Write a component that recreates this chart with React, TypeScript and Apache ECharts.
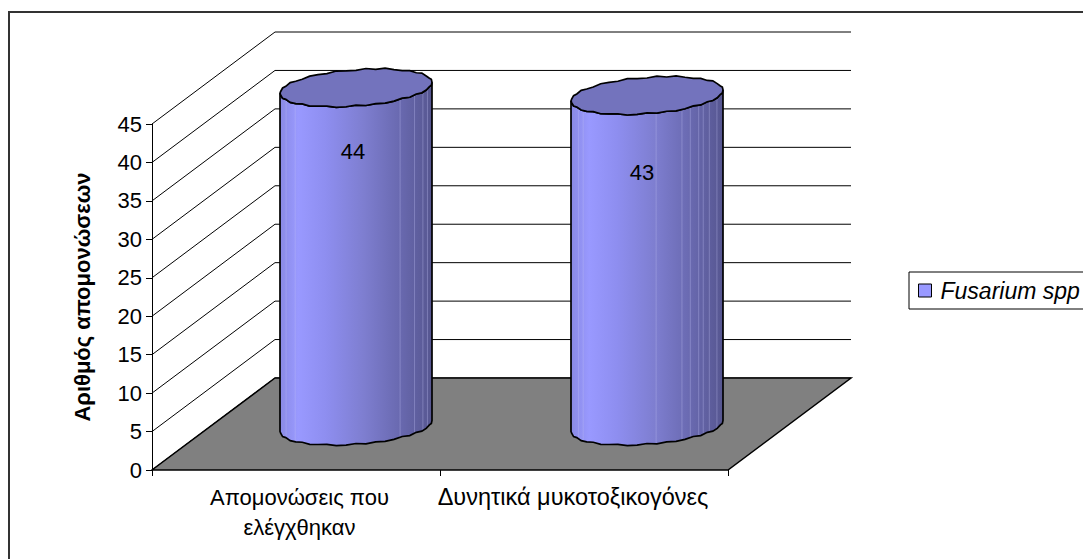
import React, { useEffect, useRef } from "react";
import * as echarts from "echarts";

const categories = ["Απομονώσεις που\nελέγχθηκαν", "Δυνητικά μυκοτοξικογόνες"];
const isolates = [44, 43];
const axisTicks = [0, 5, 10, 15, 20, 25, 30, 35, 40, 45];
const seriesName = "Fusarium spp";
const yAxisTitle = "Αριθμός απομονώσεων";

// Oblique projection of the chart's depth
const DEPTH_X = 123;
const DEPTH_Y = 92;
const FONT = '"Liberation Sans", Arial, sans-serif';
const TEXT_SIZE = 22;

// Cylinder shape, in pixels, relative to the front plane of the plot
const cylShiftX = [60, 63];
const CYL_SHIFT_Y = 44;
const CYL_RX = 76;
const CYL_RY = 18.2;
const CYL_TILT = 5.5;
const labelDrop = [20, 33];
const labelShift = [-3, -5];

// Small outline wobble that gives the ellipses their faceted edge
const wobble = [0, 0.6, -0.5, 0.5, 0.8, -0.4, 0.6, -0.6, 0.4, 0.7, -0.3, 0.5, -0.7, 0.3, 0.6, -0.5];

function ellipsePoint(cx: number, cy: number, t: number, i: number) {
  const w = i % 24 === 0 ? 0 : wobble[i % wobble.length];
  return [
    cx + CYL_RX * Math.cos(t),
    cy + CYL_RY * Math.sin(t) - CYL_TILT * Math.cos(t) + w,
  ];
}

function ellipseRing(cx: number, cy: number) {
  const pts: number[][] = [];
  const n = 48;
  for (let i = 0; i < n; i++) pts.push(ellipsePoint(cx, cy, (i / n) * Math.PI * 2, i));
  return pts;
}

function lowerArc(cx: number, cy: number) {
  const pts: number[][] = [];
  const n = 24;
  for (let i = 0; i <= n; i++) pts.push(ellipsePoint(cx, cy, (i / n) * Math.PI, i));
  return pts;
}

const bodyGradient = new echarts.graphic.LinearGradient(0, 0, 1, 0, [
  { offset: 0, color: "#8a8ae4" },
  { offset: 0.12, color: "#9999ff" },
  { offset: 0.3, color: "#8e8ef0" },
  { offset: 0.55, color: "#7e7ed0" },
  { offset: 0.8, color: "#6868ae" },
  { offset: 1, color: "#565690" },
]);

// Thin pale streaks down each body, as fractions of its width
const streaks = [
  [0.04, 0.1, 0.79, 0.885, 0.94, 0.97],
  [0.05, 0.08, 0.56, 0.73, 0.785, 0.84, 0.87, 0.91, 0.96],
];

function renderFloor(params: any, api: any) {
  const cs = params.coordSys;
  const y0 = api.coord([0, 0])[1];
  const x0 = cs.x;
  const x1 = cs.x + cs.width;
  return {
    type: "polygon",
    shape: {
      points: [
        [x0, y0],
        [x1, y0],
        [x1 + DEPTH_X, y0 - DEPTH_Y],
        [x0 + DEPTH_X, y0 - DEPTH_Y],
      ],
    },
    style: { fill: "#808080", stroke: "#000", lineWidth: 1.5 },
  };
}

function renderWallLine(params: any, api: any) {
  const cs = params.coordSys;
  const y = api.coord([0, api.value(1)])[1];
  return {
    type: "polyline",
    shape: {
      points: [
        [cs.x, y],
        [cs.x + DEPTH_X, y - DEPTH_Y],
        [cs.x + cs.width + DEPTH_X, y - DEPTH_Y],
      ],
    },
    style: { fill: "none", stroke: "#000", lineWidth: 1 },
  };
}

function renderCylinder(params: any, api: any) {
  const idx = params.dataIndex;
  const value = api.value(1);
  const cx = api.coord([api.value(0), 0])[0] + cylShiftX[idx];
  const yBase = api.coord([api.value(0), 0])[1] - CYL_SHIFT_Y;
  const yTop = api.coord([api.value(0), value])[1] - CYL_SHIFT_Y;
  const topArc = lowerArc(cx, yTop);
  const baseArc = lowerArc(cx, yBase);
  const bodyPts = [...baseArc.slice().reverse(), ...topArc];
  const left = cx - CYL_RX;
  const children: any[] = [
    {
      type: "polygon",
      shape: { points: bodyPts },
      style: { fill: bodyGradient, stroke: "none" },
    },
  ];
  streaks[idx].forEach((f) => {
    const x = left + f * CYL_RX * 2;
    const t = Math.acos((x - cx) / CYL_RX);
    const dy = CYL_RY * Math.sin(t) - CYL_TILT * Math.cos(t);
    children.push({
      type: "line",
      shape: { x1: x, y1: yTop + dy, x2: x, y2: yBase + dy },
      style: { stroke: "rgba(190,190,240,0.35)", lineWidth: 1 },
    });
  });
  children.push(
    {
      type: "polygon",
      shape: { points: bodyPts },
      style: { fill: "none", stroke: "#000", lineWidth: 1.7 },
    },
    {
      type: "polygon",
      shape: { points: ellipseRing(cx, yTop) },
      style: { fill: "#7373bd", stroke: "#000", lineWidth: 1.7 },
    },
    {
      type: "text",
      style: {
        x: cx + labelShift[idx],
        y: api.coord([api.value(0), value])[1] + labelDrop[idx],
        text: String(value),
        fill: "#000",
        font: `${TEXT_SIZE}px ${FONT}`,
        align: "center",
        verticalAlign: "middle",
      },
    }
  );
  return { type: "group", children };
}

export default function App() {
  const ref = useRef<HTMLDivElement>(null);

  useEffect(() => {
    const chart = echarts.init(ref.current!, undefined, { renderer: "svg" });
    chart.setOption({
      animation: false,
      backgroundColor: "#fff",
      textStyle: { fontFamily: FONT },
      grid: { left: 152, top: 124, width: 576, height: 346 },
      xAxis: {
        type: "category",
        data: categories,
        axisLine: { show: false },
        axisTick: { show: true, length: 6, alignWithLabel: false, lineStyle: { color: "#000" } },
        axisLabel: {
          interval: 0,
          color: "#000",
          margin: 12,
          formatter: (v: string, i: number) =>
            v
              .split("\n")
              .map((line) => `{${i === 0 ? "a" : "b"}|${line}}`)
              .join("\n"),
          rich: {
            a: { fontSize: TEXT_SIZE, fontFamily: FONT, lineHeight: 30, padding: [0, 0, 0, 7], color: "#000" },
            b: { fontSize: 23.5, fontFamily: FONT, lineHeight: 30, padding: [0, 22, 0, 0], color: "#000" },
          },
        },
      },
      yAxis: {
        type: "value",
        min: 0,
        max: 45,
        interval: 5,
        name: yAxisTitle,
        nameLocation: "middle",
        nameGap: 59,
        nameTextStyle: { fontSize: TEXT_SIZE, fontWeight: "bold", fontFamily: FONT, color: "#000" },
        axisLine: { show: true, lineStyle: { color: "#000", width: 1 } },
        axisTick: { show: true, length: 6, lineStyle: { color: "#000" } },
        axisLabel: {
          color: "#000",
          fontSize: TEXT_SIZE,
          fontFamily: FONT,
          margin: 10,
          customValues: axisTicks,
        },
        splitLine: { show: false },
      },
      legend: {
        show: true,
        left: 909,
        top: 272,
        orient: "vertical",
        padding: [7, 40, 7, 9],
        icon: "rect",
        itemWidth: 13,
        itemHeight: 13,
        itemGap: 0,
        borderColor: "#000",
        borderWidth: 1,
        backgroundColor: "#fff",
        textStyle: {
          fontStyle: "italic",
          fontSize: 23,
          fontFamily: FONT,
          color: "#000",
          padding: [0, 0, 0, 4],
        },
        data: [
          {
            name: seriesName,
            itemStyle: { color: "#9999ff", borderColor: "#000", borderWidth: 1 },
          },
        ],
      },
      graphic: [
        {
          type: "polyline",
          silent: true,
          shape: { points: [[9, 600], [9, 12], [1100, 12]] },
          style: { fill: "none", stroke: "#333", lineWidth: 2 },
        },
      ],
      series: [
        {
          type: "custom",
          name: "wall",
          coordinateSystem: "cartesian2d",
          clip: false,
          z: 1,
          silent: true,
          data: axisTicks.map((t) => [0, t]),
          renderItem: renderWallLine,
        },
        {
          type: "custom",
          name: "floor",
          coordinateSystem: "cartesian2d",
          clip: false,
          z: 2,
          silent: true,
          data: [[0, 0]],
          renderItem: renderFloor,
        },
        {
          type: "custom",
          name: seriesName,
          coordinateSystem: "cartesian2d",
          clip: false,
          z: 3,
          silent: true,
          itemStyle: { color: "#9999ff" },
          encode: { x: 0, y: 1 },
          data: isolates.map((v, i) => [i, v]),
          renderItem: renderCylinder,
        },
      ],
    });
    return () => chart.dispose();
  }, []);

  return (
    <div
      ref={ref}
      style={{ position: "fixed", left: 0, top: 0, width: 1083, height: 559, overflow: "hidden" }}
    />
  );
}
